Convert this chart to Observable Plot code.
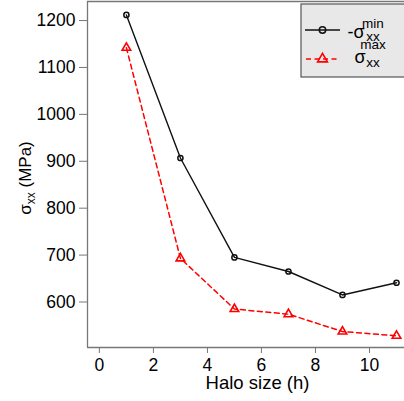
<!DOCTYPE html>
<html><head><meta charset="utf-8">
<script src="https://cdn.jsdelivr.net/npm/d3@7"></script>
<script src="https://cdn.jsdelivr.net/npm/@observablehq/plot@0.6"></script>
<style>body{margin:0;background:#fff} svg{display:block}</style>
</head><body><div id="chart"></div>
<script>
const haloSize = [1, 3, 5, 7, 9, 11];
const sigmaMinNeg = [1212, 907, 695, 665, 615, 641];
const sigmaMax = [1142, 693, 585, 574, 537, 528];
const xTicks = [0, 2, 4, 6, 8, 10];
const yTicks = [600, 700, 800, 900, 1000, 1100, 1200];

const minRows = haloSize.map((h, i) => ({h, v: sigmaMinNeg[i]}));
const maxRows = haloSize.map((h, i) => ({h, v: sigmaMax[i]}));

const FONT = "'Liberation Sans', Arial, Helvetica, sans-serif";
const W = 404, H = 401;
const chart = Plot.plot({
  width: W, height: H,
  marginLeft: 87, marginRight: 0, marginTop: 1, marginBottom: 54,
  style: {fontFamily: FONT, background: "#fff", color: "#000"},
  x: {domain: [-0.44, 11.296]},
  y: {domain: [503, 1240.6]},
  marks: [
    Plot.ruleY([503], {stroke: "#777", strokeWidth: 1.3}),
    Plot.ruleY([1240.6], {stroke: "#777", strokeWidth: 1.3}),
    Plot.ruleX([-0.44], {stroke: "#777", strokeWidth: 1.3}),
    Plot.axisX({ticks: xTicks, tickFormat: d => String(d), tickSize: 6, tickPadding: 5, fontSize: 17.5, label: null, stroke: "#777", color: "#000"}),
    Plot.axisY({ticks: yTicks, tickFormat: d => String(d), tickSize: 8, tickPadding: 4, fontSize: 17.5, label: null, stroke: "#777", color: "#000"}),
    Plot.line(maxRows, {x: "h", y: "v", stroke: "#ff0000", strokeWidth: 1.5, strokeDasharray: "5,3.5"}),
    Plot.dot(maxRows, {x: "h", y: "v", symbol: "triangle", r: 3.2, stroke: "#ff0000", strokeWidth: 1.6, fill: "none"}),
    Plot.line(minRows, {x: "h", y: "v", stroke: "#111", strokeWidth: 1.4}),
    Plot.dot(minRows, {x: "h", y: "v", symbol: "circle", r: 2.6, stroke: "#111", strokeWidth: 1.5, fill: "none"})
  ]
});
document.getElementById("chart").appendChild(chart);

const svg = d3.select(chart);
// axis titles
svg.append("text").attr("x", 257.5).attr("y", 389).attr("text-anchor", "middle")
  .attr("font-family", FONT).attr("font-size", 18.5).attr("fill", "#000").text("Halo size (h)");
const yl = svg.append("text").attr("transform", "translate(31,178) rotate(-90)").attr("text-anchor", "middle")
  .attr("font-family", FONT).attr("font-size", 17).attr("fill", "#000");
yl.append("tspan").text("σ");
yl.append("tspan").attr("font-size", 12).attr("dy", 4).text("xx");
yl.append("tspan").attr("dy", -4).text(" (MPa)");

// legend
const lg = svg.append("g");
lg.append("rect").attr("x", 301).attr("y", 4).attr("width", 110).attr("height", 73)
  .attr("fill", "#e8e8e8").attr("stroke", "#555").attr("stroke-width", 1.2);
lg.append("line").attr("x1", 305).attr("x2", 340).attr("y1", 30).attr("y2", 30).attr("stroke", "#111").attr("stroke-width", 1.4);
lg.append("circle").attr("cx", 322.5).attr("cy", 30).attr("r", 3.2).attr("fill", "none").attr("stroke", "#111").attr("stroke-width", 1.5);
lg.append("line").attr("x1", 305).attr("x2", 340).attr("y1", 59).attr("y2", 59).attr("stroke", "#ff0000").attr("stroke-width", 1.5).attr("stroke-dasharray", "5,3.5").attr("stroke-dashoffset", -1);
lg.append("path").attr("d", d3.symbol(d3.symbolTriangle, 42)()).attr("transform", "translate(322.5,59)")
  .attr("fill", "none").attr("stroke", "#ff0000").attr("stroke-width", 1.6);
function sig(y, ySup, ySub, sup, sub, neg) {
  lg.append("text").attr("x", neg ? 356 : 360).attr("y", y).attr("font-family", FONT).attr("font-size", 18).attr("fill", "#000").text(neg ? "-σ" : "σ");
  lg.append("text").attr("x", 373).attr("y", ySup).attr("font-family", FONT).attr("font-size", 13.5).attr("fill", "#000").text(sup);
  lg.append("text").attr("x", 373).attr("y", ySub).attr("font-family", FONT).attr("font-size", 13.5).attr("fill", "#000").text(sub);
}
sig(37.5, 27.5, 40.5, "min", "xx", true);
sig(62.5, 48.5, 67, "max", "xx", false);
</script></body></html>
